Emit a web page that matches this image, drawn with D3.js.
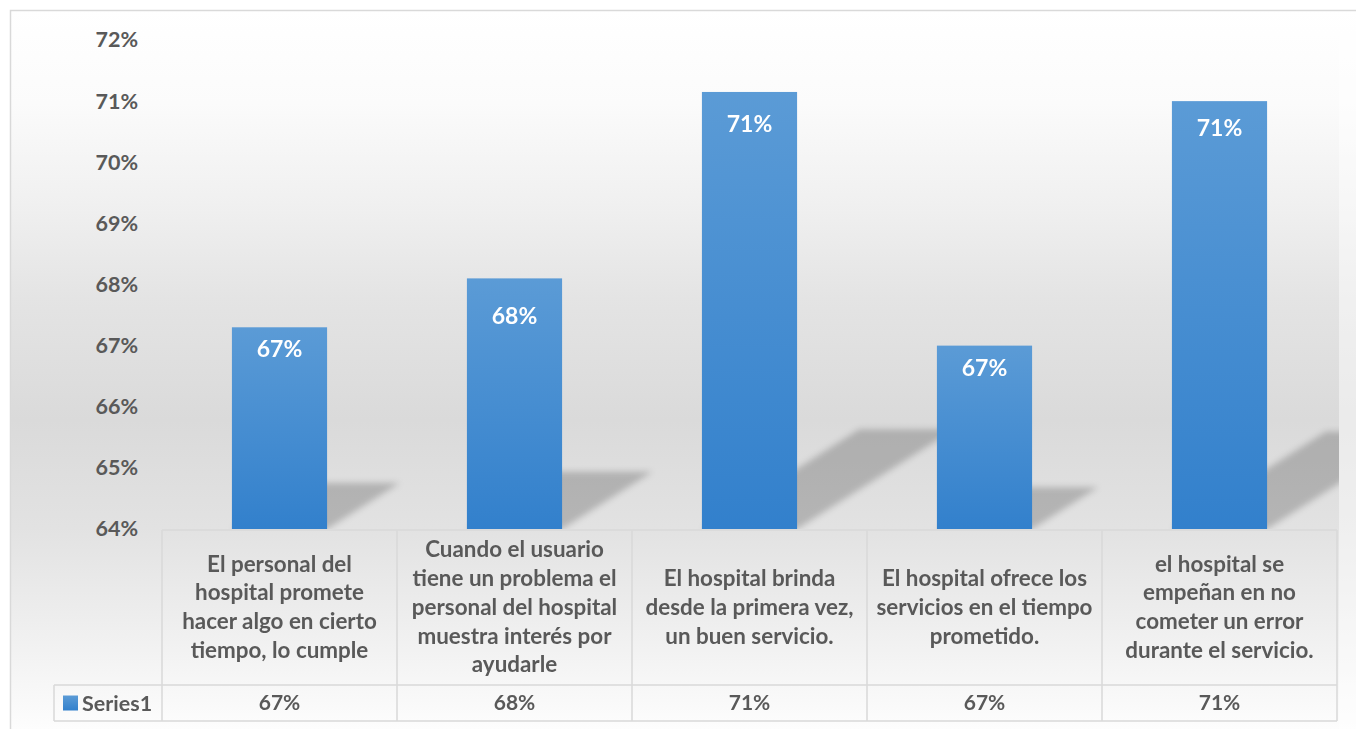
<!DOCTYPE html>
<html>
<head>
<meta charset="utf-8">
<script src="https://cdn.jsdelivr.net/npm/d3@7"></script>
<style>
  html, body { margin: 0; padding: 0; background: #ffffff; }
  svg { display: block; }
  text { font-family: Lato, "Open Sans", sans-serif; font-weight: 700; }
</style>
</head>
<body>
<svg id="chart" width="1356" height="729"></svg>
<script>
// Category names (line breaks mark how each name wraps in its table cell)
const categories = [
  "El personal del\nhospital promete\nhacer algo en cierto\ntiempo, lo cumple",
  "Cuando el usuario\ntiene un problema el\npersonal del hospital\nmuestra interés por\nayudarle",
  "El hospital brinda\ndesde la primera vez,\nun buen servicio.",
  "El hospital ofrece los\nservicios en el tiempo\nprometido.",
  "el hospital se\nempeñan en no\ncometer un error\ndurante el servicio."
];
const seriesName = "Series1";
const seriesValues = [0.673, 0.681, 0.7115, 0.670, 0.710];
const yTicks = [0.64, 0.65, 0.66, 0.67, 0.68, 0.69, 0.70, 0.71, 0.72];

const svg = d3.select("#chart");
const W = 1356, H = 729;
const plot = { left: 162, right: 1337, top: 40, bottom: 529 };
const table = { catBottom: 685, rowBottom: 721, legendLeft: 54 };
const pct = d3.format(".0%");
// distance of each value label below its bar top
const labelDrop = [22, 38, 32, 22, 27];

const defs = svg.append("defs");

// soft background gradient of the chart area
const bg = defs.append("linearGradient").attr("id", "bgGrad")
  .attr("gradientUnits", "userSpaceOnUse").attr("x1", 0).attr("x2", 0).attr("y1", 10).attr("y2", H);
[[0, "#ffffff"], [0.13, "#fbfbfb"], [0.27, "#f0f0f0"], [0.4, "#e4e4e4"], [0.57, "#dadada"],
 [0.72, "#e2e2e2"], [0.85, "#eeeeee"], [1, "#fdfdfd"]]
  .forEach(([o, c]) => bg.append("stop").attr("offset", o).attr("stop-color", c));

// bar fill gradient
const bar = defs.append("linearGradient").attr("id", "barGrad")
  .attr("x1", 0).attr("x2", 0).attr("y1", 0).attr("y2", 1);
bar.append("stop").attr("offset", 0).attr("stop-color", "#5b9bd6");
bar.append("stop").attr("offset", 1).attr("stop-color", "#3280cc");

// blurred perspective shadow
defs.append("filter").attr("id", "shadowBlur")
  .attr("x", "-20%").attr("y", "-20%").attr("width", "140%").attr("height", "140%")
  .append("feGaussianBlur").attr("stdDeviation", 3);

defs.append("clipPath").attr("id", "plotClip")
  .append("rect").attr("x", 0).attr("y", 0).attr("width", 1339).attr("height", plot.bottom);

// background + frame
svg.append("rect").attr("x", 10).attr("y", 10).attr("width", W).attr("height", H)
  .attr("fill", "url(#bgGrad)");
svg.append("rect").attr("x", 1339).attr("y", 10).attr("width", W - 1339).attr("height", H)
  .attr("fill", "#ffffff").attr("opacity", 0.45);
svg.append("rect").attr("x", 10.5).attr("y", 10.5).attr("width", W + 20).attr("height", H + 20)
  .attr("fill", "none").attr("stroke", "#d9d9d9").attr("stroke-width", 1.5);

// scales
const x = d3.scaleBand().domain(d3.range(categories.length))
  .range([plot.left, plot.right]).paddingInner(0).paddingOuter(0);
const y = d3.scaleLinear().domain([0.64, 0.72]).range([plot.bottom, plot.top]);
const barW = x.bandwidth() * 0.405;

// y axis labels
const yAxis = d3.axisLeft(y).tickValues(yTicks).tickFormat(pct).tickSize(0).tickPadding(0);
const yG = svg.append("g").attr("transform", "translate(138,0)").call(yAxis);
yG.select(".domain").remove();
yG.selectAll("text").attr("fill", "#595959").style("font-size", "21.5px")
  .style("font-family", "Lato, sans-serif").style("font-weight", 700);

// shadows
const shadowG = svg.append("g").attr("clip-path", "url(#plotClip)")
  .append("g").attr("filter", "url(#shadowBlur)");
shadowG.selectAll("path").data(seriesValues).join("path")
  .attr("d", (v, i) => {
    const x0 = x(i) + (x.bandwidth() - barW) / 2, x1 = x0 + barW;
    const h = plot.bottom - y(v);
    const dx = 0.36 * h, dy = 0.228 * h;
    return `M${x0},${plot.bottom}L${x1},${plot.bottom}L${x1 + dx},${plot.bottom - dy}L${x0 + dx},${plot.bottom - dy}Z`;
  })
  .attr("fill", "#000").attr("opacity", 0.2);

// bars
svg.append("g").selectAll("rect").data(seriesValues).join("rect")
  .attr("x", (v, i) => x(i) + (x.bandwidth() - barW) / 2)
  .attr("y", v => y(v))
  .attr("width", barW)
  .attr("height", v => plot.bottom - y(v))
  .attr("fill", "url(#barGrad)");

// value labels inside the bars
svg.append("g").selectAll("text").data(seriesValues).join("text")
  .attr("x", (v, i) => x(i) + x.bandwidth() / 2)
  .attr("y", (v, i) => y(v) + labelDrop[i])
  .attr("dy", "0.35em")
  .attr("text-anchor", "middle")
  .attr("fill", "#ffffff")
  .style("font-size", "23px")
  .text(v => pct(v));

// data table
const lineColor = "#d9d9d9";
const grid = svg.append("g").attr("stroke", lineColor).attr("stroke-width", 1.5).attr("fill", "none");
grid.append("line").attr("x1", plot.left).attr("x2", plot.right).attr("y1", plot.bottom + 1).attr("y2", plot.bottom + 1);
grid.append("line").attr("x1", table.legendLeft).attr("x2", plot.right).attr("y1", table.catBottom).attr("y2", table.catBottom);
grid.append("line").attr("x1", table.legendLeft).attr("x2", plot.right).attr("y1", table.rowBottom).attr("y2", table.rowBottom);
grid.append("line").attr("x1", table.legendLeft).attr("x2", table.legendLeft).attr("y1", table.catBottom).attr("y2", table.rowBottom);
d3.range(categories.length + 1).forEach(i => {
  const xx = i < categories.length ? x(i) : plot.right;
  grid.append("line").attr("x1", xx).attr("x2", xx).attr("y1", plot.bottom + 1).attr("y2", table.rowBottom);
});

// category names
const lineH = 28.8;
const catMid = (plot.bottom + table.catBottom) / 2;
const catG = svg.append("g").attr("fill", "#595959").style("font-size", "22.4px");
categories.forEach((c, i) => {
  const lines = c.split("\n");
  const t = catG.append("text").attr("text-anchor", "middle");
  lines.forEach((ln, k) => {
    t.append("tspan")
      .attr("x", x(i) + x.bandwidth() / 2)
      .attr("y", catMid + (k - (lines.length - 1) / 2) * lineH)
      .attr("dy", "0.35em")
      .text(ln);
  });
});

// series row
const rowMid = (table.catBottom + table.rowBottom) / 2;
svg.append("g").attr("fill", "#595959").style("font-size", "21px")
  .selectAll("text").data(seriesValues).join("text")
  .attr("x", (v, i) => x(i) + x.bandwidth() / 2)
  .attr("y", rowMid).attr("dy", "0.35em").attr("text-anchor", "middle")
  .text(v => pct(v));

// legend key
svg.append("rect").attr("x", 63).attr("y", rowMid - 7.5).attr("width", 15).attr("height", 15)
  .attr("fill", "url(#barGrad)");
svg.append("text").attr("x", 82).attr("y", rowMid).attr("dy", "0.35em")
  .attr("fill", "#595959").style("font-size", "21.5px").text(seriesName);
</script>
</body>
</html>
